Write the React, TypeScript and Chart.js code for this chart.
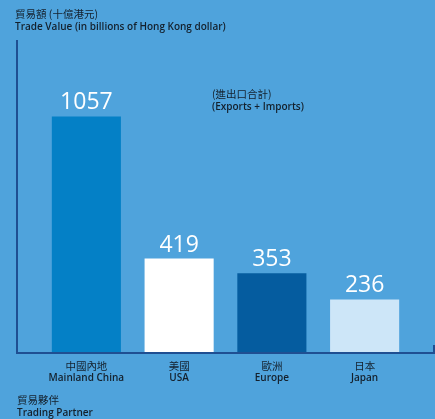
import React, { useEffect, useRef } from "react";
import { Chart, registerables } from "chart.js";

Chart.register(...registerables);

const categoriesZh = ["中國內地", "美國", "歐洲", "日本"];
const categoriesEn = ["Mainland China", "USA", "Europe", "Japan"];
const tradeValues = [1057, 419, 353, 236];
const barColors = ["#0480C6", "#FFFFFF", "#055C9F", "#CDE6F8"];

const BG = "#4FA3DC";
const AXIS = "#1F4F92";
const TEXT = "#14202c";

const overlay = {
  id: "overlay",
  afterDraw(chart: any) {
    const ctx = chart.ctx as CanvasRenderingContext2D;
    const yScale = chart.scales.y;
    const xScale = chart.scales.x;
    const base = yScale.getPixelForValue(0);
    ctx.save();
    // axes
    ctx.strokeStyle = AXIS;
    ctx.lineWidth = 2;
    ctx.beginPath();
    ctx.moveTo(17, yScale.getPixelForValue(1400));
    ctx.lineTo(17, base + 1);
    ctx.lineTo(434, base + 1);
    ctx.lineTo(434, base - 7);
    ctx.stroke();

    // value labels
    const meta = chart.getDatasetMeta(0);
    ctx.fillStyle = "#FFFFFF";
    ctx.font = "23px 'Open Sans'";
    ctx.textAlign = "center";
    ctx.textBaseline = "alphabetic";
    meta.data.forEach((bar: any, i: number) => {
      ctx.fillText(String(tradeValues[i]), bar.x, bar.y - 7);
    });

    const zhFont = "10.5px 'Noto Sans CJK TC'";
    const enFont = "600 10px 'Open Sans'";

    // category labels
    ctx.fillStyle = TEXT;
    categoriesZh.forEach((zh, i) => {
      const x = xScale.getPixelForValue(i);
      ctx.font = zhFont;
      ctx.textBaseline = "middle";
      ctx.fillText(zh, x, 366);
      ctx.font = enFont;
      ctx.fillText(categoriesEn[i], x, 378);
    });

    // titles
    ctx.textAlign = "left";
    ctx.font = zhFont;
    ctx.fillText("貿易額 (十億港元)", 15, 14);
    ctx.font = enFont;
    ctx.fillText("Trade Value (in billions of Hong Kong dollar)", 15, 27);

    ctx.font = zhFont;
    ctx.fillText("貿易夥伴", 17, 400);
    ctx.font = enFont;
    ctx.fillText("Trading Partner", 17, 413);

    ctx.font = zhFont;
    ctx.fillText("(進出口合計)", 212, 94);
    ctx.font = enFont;
    ctx.fillText("(Exports + Imports)", 212, 107);
    ctx.restore();
  },
};

export default function App() {
  const ref = useRef<HTMLCanvasElement>(null);
  useEffect(() => {
    document.body.style.margin = "0";
    const chart = new Chart(ref.current!, {
      type: "bar",
      data: {
        labels: categoriesEn,
        datasets: [
          {
            data: tradeValues,
            backgroundColor: barColors,
            borderWidth: 0,
            categoryPercentage: 1,
            barPercentage: 0.745,
          },
        ],
      },
      options: {
        animation: false,
        responsive: false,
        maintainAspectRatio: false,
        layout: { padding: { left: 40, right: 24, top: 40, bottom: 67 } },
        plugins: { legend: { display: false }, tooltip: { enabled: false } },
        scales: {
          x: { display: false },
          y: { display: false, min: 0, max: 1400 },
        },
      },
      plugins: [overlay],
    });
    return () => chart.destroy();
  }, []);
  return (
    <div style={{ width: 435, height: 419, background: BG }}>
      <canvas ref={ref} width={435} height={419} style={{ display: "block" }} />
    </div>
  );
}
